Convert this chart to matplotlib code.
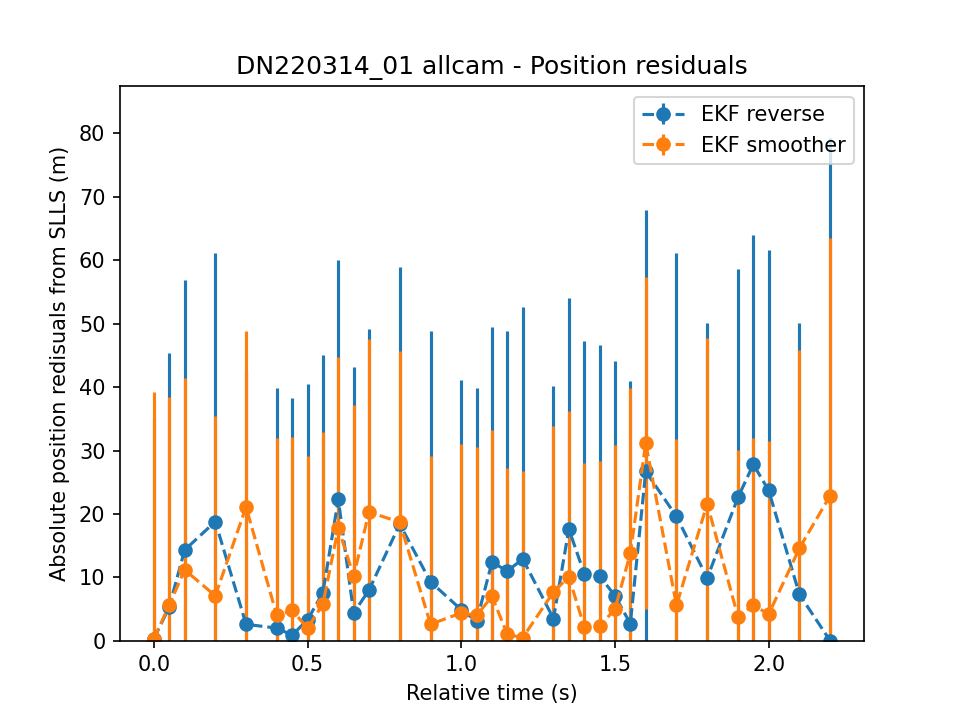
import matplotlib.pyplot as plt
import numpy as np

t = [0.0, 0.05, 0.1, 0.2, 0.3, 0.4, 0.45, 0.5, 0.55, 0.6, 0.65, 0.7, 0.8, 0.9,
     1.0, 1.05, 1.1, 1.15, 1.2, 1.3, 1.35, 1.4, 1.45, 1.5, 1.55, 1.6, 1.7, 1.8,
     1.9, 1.95, 2.0, 2.1, 2.2]

# EKF reverse
rev = [0.3, 5.3, 14.3, 18.8, 2.6, 2.0, 0.9, 3.3, 7.6, 22.3, 4.4, 8.0, 18.4, 9.3,
       4.9, 3.1, 12.4, 11.0, 12.9, 3.5, 17.6, 10.6, 10.2, 7.1, 2.7, 26.7, 19.6, 9.9,
       22.6, 27.8, 23.7, 7.3, 0.0]
rev_err = [35.0, 40.0, 42.6, 42.3, 40.0, 37.8, 37.4, 37.2, 37.4, 37.8, 38.7, 41.2, 40.5, 39.5,
           36.2, 36.7, 37.0, 37.9, 39.8, 36.7, 36.5, 36.6, 36.5, 37.0, 38.3, 41.2, 41.6, 40.2,
           36.0, 36.2, 37.9, 42.8, 79.3]

# EKF smoother
smo = [0.3, 5.6, 11.2, 7.1, 21.1, 4.0, 4.8, 2.0, 5.8, 17.8, 10.2, 20.3, 18.7, 2.6,
       4.4, 4.0, 7.0, 1.0, 0.5, 7.7, 10.1, 2.2, 2.3, 5.0, 13.8, 31.2, 5.6, 21.6,
       3.8, 5.6, 4.2, 14.6, 22.9]
smo_err = [39.0, 32.8, 30.2, 28.3, 27.8, 27.9, 27.4, 27.2, 27.1, 27.0, 27.0, 27.2, 27.0, 26.6,
           26.7, 26.5, 26.3, 26.2, 26.2, 26.2, 26.2, 25.9, 26.0, 25.9, 26.1, 26.2, 26.2, 26.2,
           26.3, 26.4, 27.3, 31.3, 40.6]

fig, ax = plt.subplots(figsize=(6.4, 4.8), dpi=150)
ax.errorbar(t, rev, yerr=rev_err, fmt='o--', label='EKF reverse')
ax.errorbar(t, smo, yerr=smo_err, fmt='o--', label='EKF smoother')
ax.set_ylim(0, 87.4)
ax.set_xlabel('Relative time (s)')
ax.set_ylabel('Absolute position redisuals from SLLS (m)')
ax.set_title('DN220314_01 allcam - Position residuals')
ax.legend(loc='upper right')
fig.savefig('out.png')
